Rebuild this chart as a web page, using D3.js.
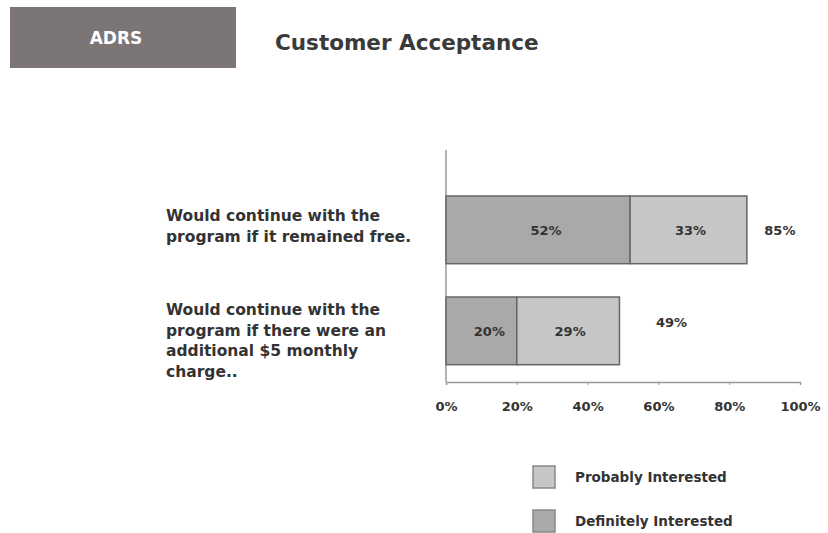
<!DOCTYPE html>
<meta charset="utf-8">
<style>
  body { margin: 0; background: #fff; }
  text { font-family: "DejaVu Sans", "Liberation Sans", Arial, sans-serif; font-weight: bold; fill: #333; }
</style>
<body>
<div id="chart"></div>
<script src="https://d3js.org/d3.v7.min.js"></script>
<script>
  // data
  var categories = [
    ["Would continue with the", "program if it remained free."],
    ["Would continue with the", "program if there were an", "additional $5 monthly", "charge.."]
  ];
  var definitely = [52, 20];
  var probably = [33, 29];
  var totals = [85, 49];
  var ticks = [0, 20, 40, 60, 80, 100];
  var seriesNames = ["Probably Interested", "Definitely Interested"];
  var colors = { definitely: "#a9a9a9", probably: "#c6c6c6" };

  var svg = d3.select("#chart").append("svg")
    .attr("width", 828).attr("height", 533);

  // header
  svg.append("rect").attr("x", 10).attr("y", 7).attr("width", 226).attr("height", 61)
    .attr("fill", "#7b7575");
  svg.append("text").attr("x", 116).attr("y", 44).attr("text-anchor", "middle")
    .style("fill", "#fff").style("font-size", "17px").text("ADRS");
  svg.append("text").attr("x", 275).attr("y", 50)
    .style("font-size", "21.5px").style("fill", "#3a3a3a").text("Customer Acceptance");

  // scales
  var x = d3.scaleLinear().domain([0, 100]).range([446, 800]);
  var y = d3.scaleBand().domain([0, 1]).range([165.7, 395]).paddingInner(0.33).paddingOuter(0.3);

  // axes
  svg.append("line").attr("x1", x(0)).attr("x2", x(0)).attr("y1", 150).attr("y2", 382)
    .attr("stroke", "#999").attr("stroke-width", 1.5);
  var xAxis = svg.append("g").attr("transform", "translate(0,382)")
    .call(d3.axisBottom(x).tickValues(ticks).tickSize(3).tickFormat(function (d) { return d + "%"; }));
  xAxis.select(".domain").attr("stroke", "#999").attr("stroke-width", 1.5);
  xAxis.selectAll(".tick line").attr("stroke", "#999");
  xAxis.selectAll("text").attr("y", 20).style("font-size", "13px").style("fill", "#333")
    .style("font-family", "'DejaVu Sans', Arial, sans-serif").style("font-weight", "bold");

  // bars
  var rows = svg.selectAll(".row").data(categories).enter().append("g");
  rows.append("rect")
    .attr("x", function (d, i) { return x(0); })
    .attr("y", function (d, i) { return y(i); })
    .attr("width", function (d, i) { return x(definitely[i]) - x(0); })
    .attr("height", y.bandwidth())
    .attr("fill", colors.definitely).attr("stroke", "#666").attr("stroke-width", 1.5);
  rows.append("rect")
    .attr("x", function (d, i) { return x(definitely[i]); })
    .attr("y", function (d, i) { return y(i); })
    .attr("width", function (d, i) { return x(definitely[i] + probably[i]) - x(definitely[i]); })
    .attr("height", y.bandwidth())
    .attr("fill", colors.probably).attr("stroke", "#666").attr("stroke-width", 1.5);

  // segment labels
  rows.append("text")
    .attr("x", function (d, i) { return x(definitely[i] / 2) + 8; })
    .attr("y", function (d, i) { return y(i) + y.bandwidth() / 2 + 5; })
    .attr("text-anchor", "middle").style("font-size", "13px")
    .text(function (d, i) { return definitely[i] + "%"; });
  rows.append("text")
    .attr("x", function (d, i) { return x(definitely[i] + probably[i] / 2) + 2; })
    .attr("y", function (d, i) { return y(i) + y.bandwidth() / 2 + 5; })
    .attr("text-anchor", "middle").style("font-size", "13px")
    .text(function (d, i) { return probably[i] + "%"; });
  rows.append("text")
    .attr("x", function (d, i) { return x(totals[i]) + (i === 0 ? 33 : 52); })
    .attr("y", function (d, i) { return y(i) + y.bandwidth() / 2 + (i === 0 ? 5 : -4); })
    .attr("text-anchor", "middle").style("font-size", "13px")
    .text(function (d, i) { return totals[i] + "%"; });

  // category labels
  rows.append("text")
    .attr("transform", function (d, i) { return "translate(166," + (i === 0 ? 221 : 315) + ")"; })
    .style("font-size", "15.5px")
    .selectAll("tspan").data(function (d) { return d; }).enter().append("tspan")
    .attr("x", 0).attr("dy", function (d, j) { return j === 0 ? 0 : 20.5; })
    .text(function (d) { return d; });

  // legend
  var legend = svg.selectAll(".legend").data(seriesNames).enter().append("g")
    .attr("transform", function (d, i) { return "translate(533," + (466 + i * 44) + ")"; });
  legend.append("rect").attr("width", 22).attr("height", 22)
    .attr("fill", function (d, i) { return i === 0 ? colors.probably : colors.definitely; })
    .attr("stroke", "#888").attr("stroke-width", 1.5);
  legend.append("text").attr("x", 42).attr("y", 16).style("font-size", "13.5px")
    .text(function (d) { return d; });
</script>
</body>
